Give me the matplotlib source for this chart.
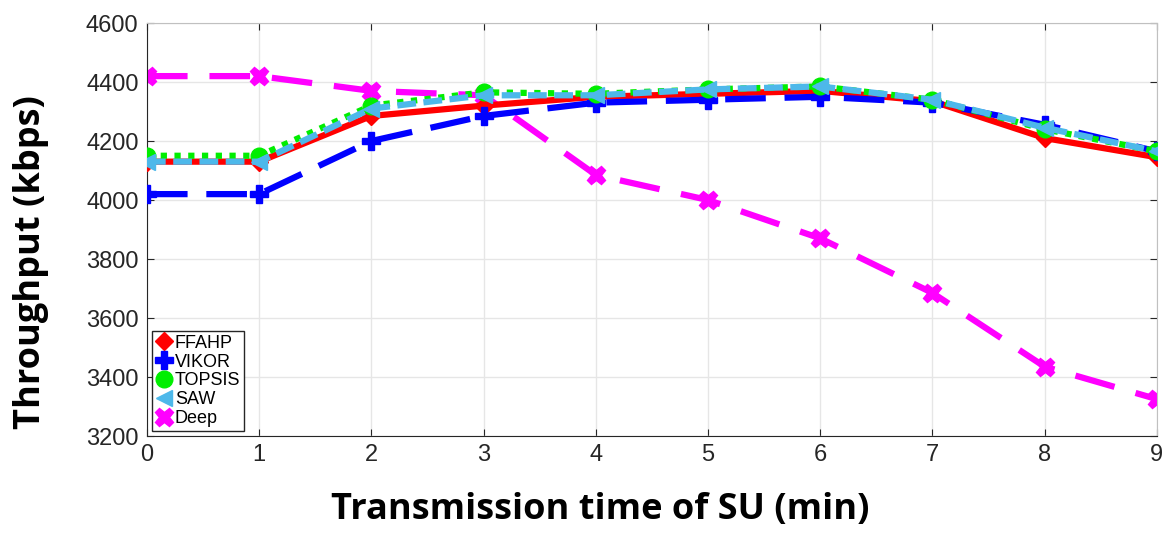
import numpy as np
import matplotlib
matplotlib.use("Agg")
import matplotlib.pyplot as plt

# transmission time (min)
minutes = [0, 1, 2, 3, 4, 5, 6, 7, 8, 9]

# throughput in kbps
ffahp = [4130, 4130, 4285, 4320, 4350, 4360, 4370, 4335, 4210, 4145]
vikor = [4020, 4020, 4200, 4285, 4330, 4340, 4350, 4330, 4255, 4165]
topsis = [4150, 4150, 4320, 4365, 4360, 4375, 4385, 4340, 4240, 4165]
saw = [4130, 4130, 4310, 4355, 4355, 4375, 4385, 4340, 4245, 4165]
deep = [4420, 4420, 4370, 4355, 4085, 4000, 3870, 3685, 3435, 3325]

yticks = [3200, 3400, 3600, 3800, 4000, 4200, 4400, 4600]

plt.rcParams['font.family'] = ['Liberation Sans', 'DejaVu Sans']

fig = plt.figure(figsize=(11.7, 5.34), dpi=100)
ax = fig.add_axes([0.1256, 0.1835, 0.8632, 0.7734])

ax.plot(minutes, ffahp, color='#ff0000', lw=4.5, ls='-', marker='D', ms=9, label='FFAHP', zorder=3)
ax.plot(minutes, vikor, color='#0000ff', lw=4.5, ls=(0, (6.5, 3)), marker='P', ms=13, label='VIKOR', zorder=3)
ax.plot(minutes, topsis, color='#00ee00', lw=4.5, ls=(0, (1, 1.2)), marker='o', ms=12, label='TOPSIS', zorder=4)
ax.plot(minutes, saw, color='#4db8ea', lw=4.5, ls=(0, (3, 1.2)), marker='<', ms=12, label='SAW', zorder=5)
ax.plot(minutes, deep, color='#ff00ff', lw=4.5, ls=(0, (6.5, 3.5)), marker='X', ms=13, label='Deep', zorder=2)

ax.set_xlim(0, 9)
ax.set_ylim(3200, 4600)
ax.set_xticks(minutes)
ax.set_yticks(yticks)
ax.tick_params(labelsize=17, colors='#262626', direction='in', length=5, pad=6,
               top=True, right=True)
ax.grid(True, color='#e6e6e6', lw=1)
ax.set_axisbelow(True)
for s in ['left', 'bottom']:
    ax.spines[s].set_color('#262626')
for s in ['top', 'right']:
    ax.spines[s].set_color('#c0c0c0')

ax.set_xlabel('Transmission time of SU (min)', fontsize=26, fontweight='bold',
              family=['Open Sans', 'DejaVu Sans'])
ax.set_ylabel('Throughput (kbps)', fontsize=26, fontweight='bold',
              family=['Open Sans', 'DejaVu Sans'])
ax.xaxis.set_label_coords(0.449, -0.135)
ax.yaxis.set_label_coords(-0.115, 0.421)
ax.yaxis.label.set_va('center')

leg = ax.legend(loc='lower left', fontsize=13, handlelength=0.9, handletextpad=0.15,
                borderpad=0.2, labelspacing=0.1, fancybox=False, framealpha=1,
                edgecolor='#262626', borderaxespad=0.3, markerscale=1.0)
for h in leg.get_lines():
    h.set_linestyle('none')

fig.savefig('out.png', dpi=100)
